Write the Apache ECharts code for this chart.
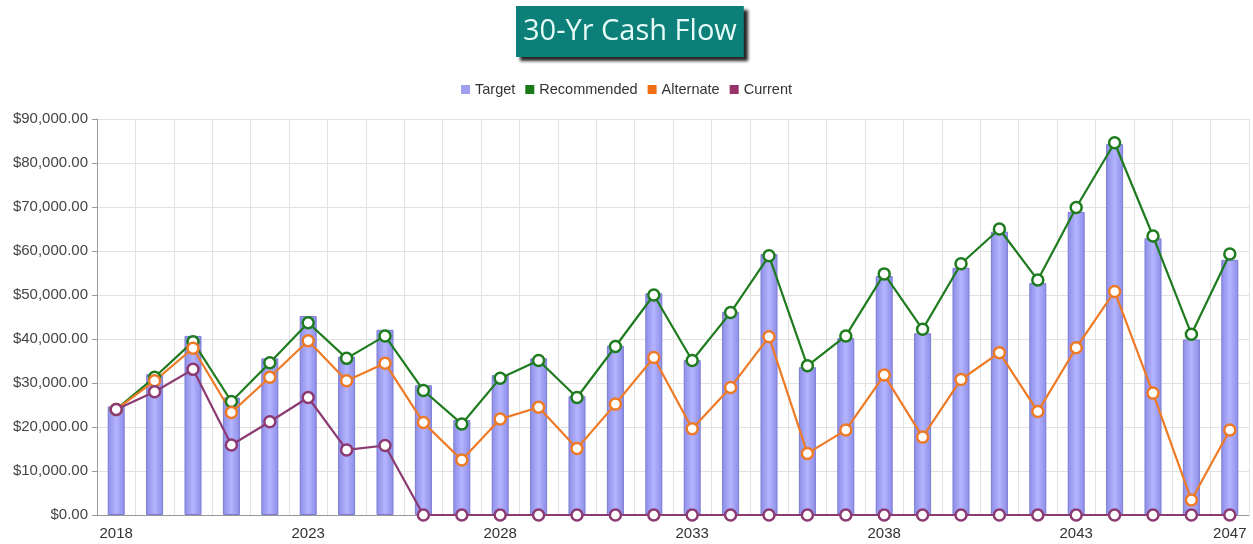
<!DOCTYPE html>
<html>
<head>
<meta charset="UTF-8">
<script src="https://cdn.jsdelivr.net/npm/echarts@6/dist/echarts.min.js"></script>
<style>
  html, body { margin: 0; padding: 0; background: #fff; }
  #chart { width: 1253px; height: 544px; }
</style>
</head>
<body>
<div id="chart"></div>
<script type="text/javascript">
    // years 2018..2047
    var years = [];
    for (var y = 2018; y <= 2047; y++) years.push(String(y));

    var target = [24700, 32000, 40700, 26700, 35600, 45200, 36000, 42100, 29500, 21600,
                  31800, 35600, 27000, 38500, 50400, 35200, 46200, 59300, 33600, 40200,
                  54300, 41300, 56200, 64400, 52700, 68900, 84300, 62900, 39900, 58000];
    var recommended = [24000, 31300, 39400, 25800, 34600, 43700, 35600, 40700, 28300, 20700,
                       31100, 35100, 26700, 38300, 50000, 35100, 46000, 58900, 33900, 40700,
                       54800, 42200, 57100, 65000, 53400, 69900, 84600, 63400, 41100, 59300];
    var alternate = [24000, 30500, 37900, 23300, 31300, 39600, 30500, 34500, 21000, 12500,
                     21800, 24500, 15100, 25200, 35800, 19600, 29000, 40500, 14000, 19300,
                     31800, 17700, 30800, 36900, 23500, 38000, 50800, 27700, 3400, 19300];
    var current = [24000, 28000, 33100, 15900, 21200, 26700, 14800, 15800, 0, 0,
                   0, 0, 0, 0, 0, 0, 0, 0, 0, 0,
                   0, 0, 0, 0, 0, 0, 0, 0, 0, 0];

    var font = 'Liberation Sans, Arial, sans-serif';
    var chart = echarts.init(document.getElementById('chart'));

    function lineSeries(name, data, color) {
        return {
            name: name,
            type: 'line',
            data: data,
            symbol: 'circle',
            symbolSize: 11,
            z: 3,
            lineStyle: { color: color, width: 2.2 },
            itemStyle: { color: '#fff', borderColor: color, borderWidth: 2.5 }
        };
    }

    var option = {
        animation: false,
        title: {
            text: '30-Yr Cash Flow',
            left: 516,
            top: 6,
            padding: [11, 7, 11, 7],
            backgroundColor: '#0d7f79',
            shadowColor: 'rgba(0,0,0,0.85)',
            shadowBlur: 3,
            shadowOffsetX: 4,
            shadowOffsetY: 4,
            textStyle: {
                fontFamily: 'Open Sans',
                fontSize: 29,
                fontWeight: 'normal',
                color: '#e6fbf7'
            }
        },
        legend: {
            top: 77,
            left: 'center',
            icon: 'rect',
            itemWidth: 9,
            itemHeight: 9,
            itemGap: 10,
            textStyle: { fontFamily: font, fontSize: 14.5, color: '#333' },
            data: [
                { name: 'Target', itemStyle: { color: '#a0a0f0', borderWidth: 0 } },
                { name: 'Recommended', itemStyle: { color: '#1a7a1a', borderWidth: 0 } },
                { name: 'Alternate', itemStyle: { color: '#f06e14', borderWidth: 0 } },
                { name: 'Current', itemStyle: { color: '#983268', borderWidth: 0 } }
            ]
        },
        grid: { left: 97, right: 4, top: 119, bottom: 29 },
        xAxis: {
            type: 'category',
            data: years,
            axisLine: { lineStyle: { color: '#999' } },
            axisTick: { interval: 0, length: 5, lineStyle: { color: '#999' } },
            splitLine: { show: true, interval: 0, lineStyle: { color: '#e2e2e2' } },
            axisLabel: {
                interval: function (i) { return i % 5 === 0 || i === years.length - 1; },
                fontFamily: font,
                fontSize: 15,
                color: '#333',
                margin: 11
            }
        },
        yAxis: {
            type: 'value',
            min: 0,
            max: 90000,
            interval: 10000,
            axisLine: { show: true, lineStyle: { color: '#999' } },
            axisTick: { show: true, length: 5, lineStyle: { color: '#999' } },
            splitLine: { lineStyle: { color: '#e2e2e2' } },
            axisLabel: {
                fontFamily: font,
                fontSize: 15,
                color: '#444',
                margin: 9,
                formatter: function (v) {
                    return '$' + v.toLocaleString('en-US', { minimumFractionDigits: 2, maximumFractionDigits: 2 });
                }
            }
        },
        series: [
            {
                name: 'Target',
                type: 'bar',
                data: target,
                barWidth: 17,
                itemStyle: {
                    color: new echarts.graphic.LinearGradient(0, 0, 1, 0, [
                        { offset: 0, color: '#8c8ce6' },
                        { offset: 0.5, color: '#b4b4ff' },
                        { offset: 1, color: '#8c8ce6' }
                    ]),
                    borderColor: '#7c7cd4',
                    borderWidth: 1
                }
            },
            lineSeries('Recommended', recommended, '#1e7b1e'),
            lineSeries('Alternate', alternate, '#ee7a26'),
            lineSeries('Current', current, '#8b3a72')
        ]
    };
    chart.setOption(option);
</script>
</body>
</html>
